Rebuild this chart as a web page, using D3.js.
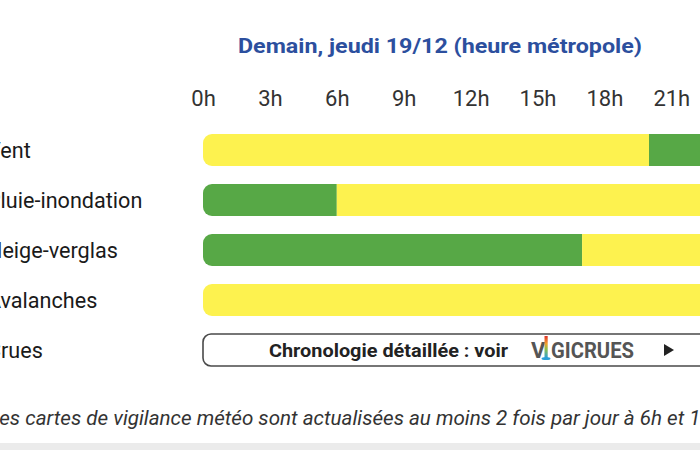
<!DOCTYPE html>
<html>
<head>
<meta charset="utf-8">
<script src="https://cdn.jsdelivr.net/npm/d3@7"></script>
<style>
  html, body { margin: 0; padding: 0; background: #fff; overflow: hidden; }
  svg { display: block; font-family: Roboto, "Noto Sans", sans-serif; }
</style>
</head>
<body>
<svg id="chart" width="700" height="450"></svg>
<script>
// ---- Data ----
const title = "Demain, jeudi 19/12 (heure métropole)";
const hourTicks = [0, 3, 6, 9, 12, 15, 18, 21];
const categories = ["Vent", "Pluie-inondation", "Neige-verglas", "Avalanches", "Crues"];
// segments per phenomenon: [startHour, endHour, level]
const ventSegments = [[0, 20, "jaune"], [20, 24, "vert"]];
const pluieSegments = [[0, 6, "vert"], [6, 24, "jaune"]];
const neigeSegments = [[0, 17, "vert"], [17, 24, "jaune"]];
const avalancheSegments = [[0, 24, "jaune"]];
const crueText = "Chronologie détaillée : voir";
const footnote = "Les cartes de vigilance météo sont actualisées au moins 2 fois par jour à 6h et 16h.";

const rows = [
  { name: "Vent", segs: ventSegments },
  { name: "Pluie-inondation", segs: pluieSegments },
  { name: "Neige-verglas", segs: neigeSegments },
  { name: "Avalanches", segs: avalancheSegments }
];

const levelColor = d3.scaleOrdinal()
  .domain(["vert", "jaune"])
  .range(["#57a846", "#fdf24f"]);

const svg = d3.select("#chart");
const x = d3.scaleLinear().domain([0, 24]).range([203, 203 + 24 * 22.3]);
const y = d3.scalePoint().domain(categories).range([125, 375]).padding(0.5);
const barH = 32;

// Title
svg.append("text")
  .attr("x", 440).attr("y", 53)
  .attr("text-anchor", "middle")
  .attr("font-size", 21).attr("font-weight", 700)
  .attr("fill", "#2c4f9e")
  .attr("textLength", 404).attr("lengthAdjust", "spacingAndGlyphs")
  .text(title);

// Hour axis (labels only)
const axis = d3.axisTop(x).tickValues(hourTicks).tickFormat(d => d + "h").tickSize(0).tickPadding(0);
const gAxis = svg.append("g").attr("transform", "translate(0,106)").call(axis);
gAxis.select(".domain").remove();
gAxis.selectAll("text")
  .attr("font-size", 22).attr("font-family", "Roboto, sans-serif")
  .attr("fill", "#333").attr("dy", 0);

// Row labels
svg.append("g").selectAll("text").data(categories).join("text")
  .attr("x", -13).attr("y", d => y(d)).attr("dy", "0.36em")
  .attr("font-size", 21.6).attr("fill", "#1a1a1a")
  .text(d => d);

// Bars
const defs = svg.append("defs");
rows.forEach((r, i) => {
  const id = "clip" + i;
  defs.append("clipPath").attr("id", id).append("rect")
    .attr("x", x(0)).attr("y", y(r.name) - barH / 2)
    .attr("width", x(24) - x(0)).attr("height", barH)
    .attr("rx", 9).attr("ry", 9);
  svg.append("g").attr("clip-path", `url(#${id})`)
    .selectAll("rect").data(r.segs).join("rect")
    .attr("x", d => x(d[0])).attr("width", d => x(d[1]) - x(d[0]))
    .attr("y", y(r.name) - barH / 2).attr("height", barH)
    .attr("fill", d => levelColor(d[2]));
});

// Crues box
const cy = y("Crues");
svg.append("rect")
  .attr("x", x(0)).attr("y", cy - barH / 2)
  .attr("width", x(24) - x(0)).attr("height", barH)
  .attr("rx", 8).attr("fill", "#fff")
  .attr("stroke", "#4a4a4a").attr("stroke-width", 1.6);
svg.append("text")
  .attr("x", 269).attr("y", cy + 6.5)
  .attr("font-size", 18.5).attr("font-weight", 700).attr("fill", "#222")
  .attr("textLength", 239).attr("lengthAdjust", "spacingAndGlyphs")
  .text(crueText);
// VIGICRUES logo
const logo = svg.append("g");
const grad = defs.append("linearGradient").attr("id", "vigi").attr("x1", 0).attr("x2", 0).attr("y1", 0).attr("y2", 1);
[["0%", "#e0302a"], ["35%", "#f2a12c"], ["60%", "#8cc04a"], ["100%", "#2a9fd8"]].forEach(s =>
  grad.append("stop").attr("offset", s[0]).attr("stop-color", s[1]));
logo.append("text").attr("x", 531).attr("y", cy + 7.5)
  .attr("font-size", 22).attr("font-weight", 700).attr("fill", "#555").text("V");
logo.append("rect").attr("x", 544.5).attr("y", cy - 14).attr("width", 3.2).attr("height", 22)
  .attr("fill", "url(#vigi)");
logo.append("ellipse").attr("cx", 546).attr("cy", cy + 8.5).attr("rx", 4.5).attr("ry", 1.6).attr("fill", "#2a9fd8");
logo.append("text").attr("x", 551).attr("y", cy + 7.5)
  .attr("font-size", 22).attr("font-weight", 700).attr("fill", "#555")
  .attr("textLength", 83).attr("lengthAdjust", "spacingAndGlyphs").text("GICRUES");
svg.append("path")
  .attr("d", `M664,${cy - 6} L674,${cy} L664,${cy + 6} Z`)
  .attr("fill", "#222");

// Footnote
svg.append("text")
  .attr("x", -11.5).attr("y", 425)
  .attr("font-size", 20.6).attr("font-style", "italic").attr("fill", "#333")
  .text(footnote);

// Bottom grey strip
svg.append("rect").attr("x", 0).attr("y", 443).attr("width", 700).attr("height", 7).attr("fill", "#ebebeb");
</script>
</body>
</html>
